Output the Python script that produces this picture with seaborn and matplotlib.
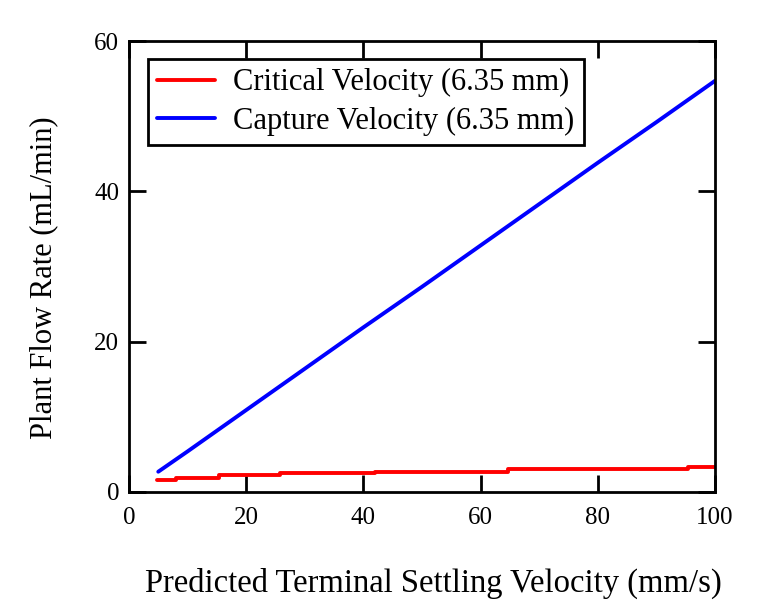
import pandas as pd
import seaborn as sns
import matplotlib.pyplot as plt

# 곡선 값
capture_x = [5, 10, 20, 30, 40, 50, 60, 70, 80, 90, 100]
capture_y = [2.7, 5.4, 10.9, 16.4, 21.9, 27.3, 32.8, 38.3, 43.8, 49.2, 54.7]

critical_x = [4.8, 8.0, 15.3, 25.8, 42.0, 64.6, 95.4, 100]
critical_y = [1.6, 1.9, 2.2, 2.5, 2.7, 3.0, 3.3, 3.3]

sns.set_theme(style='white')
plt.rcParams['font.family'] = ['Liberation Serif', 'DejaVu Serif']
plt.rcParams['text.color'] = 'black'
plt.rcParams['axes.labelcolor'] = 'black'

capture = pd.DataFrame({'v': capture_x, 'q': capture_y})
critical = pd.DataFrame({'v': critical_x, 'q': critical_y})

fig = plt.figure(figsize=(7.64, 6.15), dpi=100)
ax = fig.add_axes([0.1688, 0.2, 0.767, 0.7333])

sns.lineplot(data=critical, x='v', y='q', color='#ff0000', lw=2.8,
             drawstyle='steps-post', label='Critical Velocity (6.35 mm)', ax=ax)
sns.lineplot(data=capture, x='v', y='q', color='#0000ff', lw=2.8,
             label='Capture Velocity (6.35 mm)', ax=ax)

ax.set_xlim(0, 100)
ax.set_ylim(0, 60)
ax.set_xticks([0, 20, 40, 60, 80, 100])
ax.set_yticks([0, 20, 40, 60])
ax.tick_params(direction='in', length=12, width=2, bottom=True, left=True,
               top=True, right=True, labelsize=18, colors='black', pad=7)
ax.tick_params(axis='x', pad=11)
for s in ax.spines.values():
    s.set_visible(True)
    s.set_color('black')
    s.set_linewidth(2)

ax.set_xlabel('Predicted Terminal Settling Velocity (mm/s)', fontsize=23.5)
ax.set_ylabel('Plant Flow Rate (mL/min)', fontsize=22)
ax.xaxis.set_label_coords(0.52, -0.167)
ax.yaxis.set_label_coords(-0.12, 0.475)

leg = ax.legend(loc='upper left', bbox_to_anchor=(0.032, 0.96), fontsize=22,
                frameon=True, fancybox=False, framealpha=1, handlelength=1.9,
                borderpad=0.3, labelspacing=0.3, handletextpad=0.6,
                borderaxespad=0)
leg.get_frame().set_edgecolor('black')
leg.get_frame().set_linewidth(2)
for t in leg.get_texts():
    t.set_color('black')

plt.savefig('out.png', dpi=100)
